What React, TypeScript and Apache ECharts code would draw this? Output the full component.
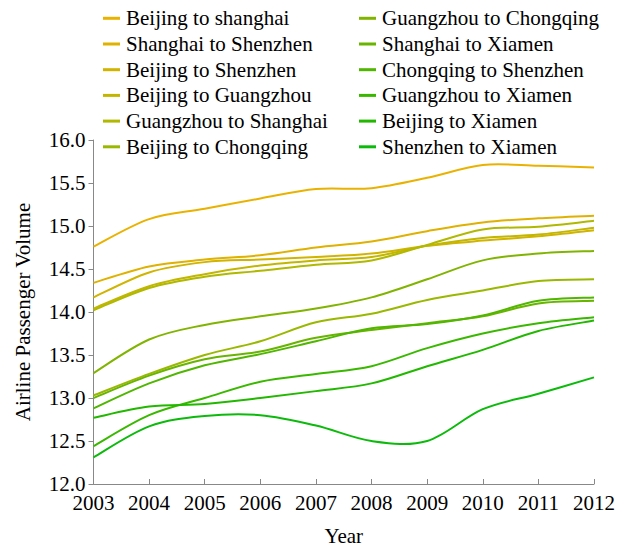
import React, { useEffect, useRef } from "react";
import * as echarts from "echarts";

const years = ["2003", "2004", "2005", "2006", "2007", "2008", "2009", "2010", "2011", "2012"];

const routeNames = [
  "Beijing to shanghai",
  "Shanghai to Shenzhen",
  "Beijing to Shenzhen",
  "Beijing to Guangzhou",
  "Guangzhou to Shanghai",
  "Beijing to Chongqing",
  "Guangzhou to Chongqing",
  "Shanghai to Xiamen",
  "Chongqing to Shenzhen",
  "Guangzhou to Xiamen",
  "Beijing to Xiamen",
  "Shenzhen to Xiamen",
];

const routeColors = [
  "#eab200",
  "#dfb100",
  "#d0b400",
  "#c2b600",
  "#b0b800",
  "#9ab800",
  "#80b400",
  "#68b400",
  "#50b600",
  "#3ab800",
  "#22b800",
  "#0cba0c",
];

const beijingShanghai = [14.76, 15.08, 15.2, 15.32, 15.43, 15.44, 15.56, 15.71, 15.7, 15.68];
const shanghaiShenzhen = [14.34, 14.53, 14.61, 14.66, 14.75, 14.82, 14.94, 15.04, 15.09, 15.12];
const beijingShenzhen = [14.17, 14.46, 14.58, 14.61, 14.64, 14.68, 14.77, 14.83, 14.88, 14.95];
const beijingGuangzhou = [14.04, 14.3, 14.44, 14.54, 14.6, 14.64, 14.77, 14.86, 14.9, 14.98];
const guangzhouShanghai = [14.02, 14.28, 14.41, 14.48, 14.55, 14.6, 14.78, 14.96, 14.99, 15.06];
const beijingChongqing = [13.03, 13.28, 13.5, 13.66, 13.88, 13.98, 14.14, 14.25, 14.36, 14.38];
const guangzhouChongqing = [13.29, 13.68, 13.85, 13.95, 14.04, 14.17, 14.38, 14.6, 14.68, 14.71];
const shanghaiXiamen = [13.0, 13.26, 13.45, 13.54, 13.7, 13.79, 13.87, 13.95, 14.1, 14.13];
const chongqingShenzhen = [12.88, 13.17, 13.38, 13.51, 13.66, 13.81, 13.86, 13.96, 14.13, 14.17];
const guangzhouXiamen = [12.44, 12.8, 13.0, 13.19, 13.28, 13.37, 13.58, 13.75, 13.87, 13.94];
const beijingXiamen = [12.77, 12.9, 12.93, 13.0, 13.08, 13.17, 13.37, 13.56, 13.78, 13.9];
const shenzhenXiamen = [12.31, 12.67, 12.79, 12.8, 12.68, 12.5, 12.5, 12.87, 13.05, 13.24];

const routeValues = [
  beijingShanghai,
  shanghaiShenzhen,
  beijingShenzhen,
  beijingGuangzhou,
  guangzhouShanghai,
  beijingChongqing,
  guangzhouChongqing,
  shanghaiXiamen,
  chongqingShenzhen,
  guangzhouXiamen,
  beijingXiamen,
  shenzhenXiamen,
];

const yTicks = { min: 12, max: 16, interval: 0.5 };

const FONT = "Liberation Serif";

// Catmull-Rom spline through the projected points, written as cubic Beziers
function splinePath(pts: number[][]): string {
  let d = `M${pts[0][0]},${pts[0][1]}`;
  for (let k = 0; k < pts.length - 1; k++) {
    const p0 = pts[k - 1] || pts[k];
    const p1 = pts[k];
    const p2 = pts[k + 1];
    const p3 = pts[k + 2] || pts[k + 1];
    const c1x = p1[0] + (p2[0] - p0[0]) / 6;
    const c1y = p1[1] + (p2[1] - p0[1]) / 6;
    const c2x = p2[0] - (p3[0] - p1[0]) / 6;
    const c2y = p2[1] - (p3[1] - p1[1]) / 6;
    d += ` C${c1x},${c1y} ${c2x},${c2y} ${p2[0]},${p2[1]}`;
  }
  return d;
}

// legend drawn as graphic elements (two columns of six)
function legendGraphics() {
  const colLeft = [103, 359];
  const firstRow = 18.3;
  const rowStep = 25.7;
  const els: any[] = [];
  routeNames.forEach((name, i) => {
    const col = i < 6 ? 0 : 1;
    const row = i % 6;
    const cy = firstRow + row * rowStep;
    els.push({
      type: "rect",
      shape: { x: colLeft[col], y: cy - 1.5, width: 17, height: 3 },
      style: { fill: routeColors[i] },
      silent: true,
    });
    els.push({
      type: "text",
      x: colLeft[col] + 23,
      y: cy,
      style: {
        text: `{t|${name}}`,
        fontFamily: FONT,
        fontSize: 21,
        fill: "#000",
        align: "left",
        verticalAlign: "middle",
        rich: { t: { fontFamily: FONT, fontSize: 21, fill: "#000", color: "#000" } },
      },
      silent: true,
    });
  });
  return els;
}

export default function App() {
  const ref = useRef<HTMLDivElement>(null);
  useEffect(() => {
    if (!ref.current) return;
    const chart = echarts.init(ref.current, null, { renderer: "svg" });
    chart.setOption({
      animation: false,
      textStyle: { fontFamily: FONT },
      color: routeColors,
      graphic: legendGraphics(),
      grid: { left: 93.5, right: 22.3, top: 140, bottom: 60, containLabel: false },
      xAxis: {
        type: "category",
        data: years,
        boundaryGap: false,
        name: "Year",
        nameLocation: "middle",
        nameGap: 41,
        nameTextStyle: { fontFamily: FONT, fontSize: 21, color: "#000" },
        axisLine: { lineStyle: { color: "#888", width: 1 } },
        axisTick: { inside: true, length: 5, lineStyle: { color: "#888" } },
        axisLabel: {
          interval: 0,
          hideOverlap: false,
          fontFamily: FONT,
          fontSize: 21,
          color: "#000",
          margin: 8,
          formatter: (v: string) => `{t|${v}}`,
          rich: { t: { fontFamily: FONT, fontSize: 21, color: "#000" } },
        },
        splitLine: { show: false },
      },
      yAxis: {
        type: "value",
        min: yTicks.min,
        max: yTicks.max,
        interval: yTicks.interval,
        name: "Airline Passenger Volume",
        nameLocation: "middle",
        nameGap: 60,
        nameTextStyle: { fontFamily: FONT, fontSize: 21, color: "#000" },
        axisLine: { show: true, lineStyle: { color: "#888", width: 1 } },
        axisTick: { show: true, inside: false, length: 5, lineStyle: { color: "#888" } },
        axisLabel: {
          fontFamily: FONT,
          fontSize: 21,
          color: "#000",
          margin: 8,
          formatter: (v: number) => `{t|${v.toFixed(1)}}`,
          rich: { t: { fontFamily: FONT, fontSize: 21, color: "#000" } },
        },
        splitLine: { show: false },
      },
      series: routeNames.map((name, i) => ({
        name,
        type: "custom",
        coordinateSystem: "cartesian2d",
        data: routeValues[i].map((v, j) => [j, v]),
        encode: { x: 0, y: 1 },
        itemStyle: { color: routeColors[i] },
        renderItem: (params: any, api: any) => {
          if (params.dataIndex !== 0) return null;
          const pts = routeValues[i].map((v, j) => api.coord([j, v]));
          return {
            type: "path",
            shape: { pathData: splinePath(pts) },
            style: { stroke: routeColors[i], lineWidth: 2, fill: "none" },
          };
        },
      })),
    });
    return () => chart.dispose();
  }, []);
  return (
    <div
      ref={ref}
      style={{ width: 618, height: 551, position: "absolute", left: 0, top: 0, fontFamily: FONT }}
    />
  );
}
